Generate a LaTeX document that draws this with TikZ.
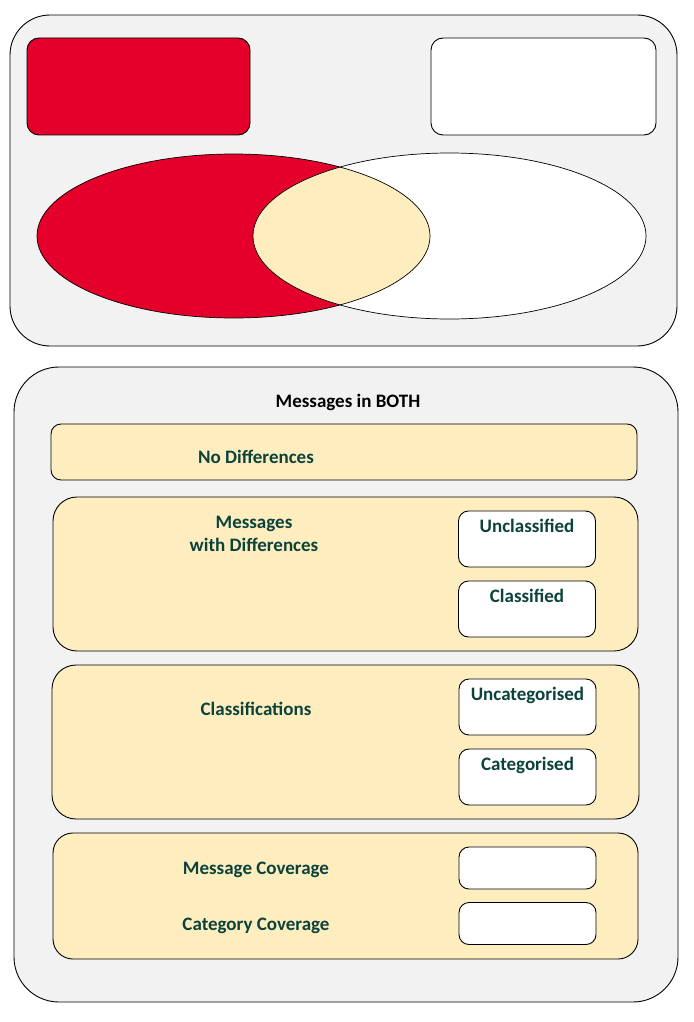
\documentclass[tikz,border=0pt]{standalone}
\usepackage{fontspec}
\setmainfont{Carlito}
\usepackage{xcolor}
\usetikzlibrary{positioning}
\definecolor{panelgrey}{HTML}{F2F2F2}
\definecolor{setred}{HTML}{E4002B}
\definecolor{pale}{HTML}{FEEEBF}
\definecolor{darkteal}{HTML}{0B423C}
\tikzstyle{panel} = [rectangle, draw, fill=panelgrey, line width=0.9pt, inner sep=0pt]
\tikzstyle{band} = [rectangle, draw, fill=pale, line width=0.9pt, inner sep=0pt]
\tikzstyle{subbox} = [rectangle, draw, fill=white, line width=0.9pt,
    rounded corners=10pt, minimum width=137pt, inner sep=0pt]
\tikzstyle{lbl} = [font=\fontsize{19}{23}\selectfont\bfseries, text=darkteal, align=center, inner sep=0pt]

\begin{document}
\begin{tikzpicture}[x=1pt, y=-1pt]
    \useasboundingbox (0,0) rectangle (693,1022);
    % Top panel with the two sets
    \node [panel, rounded corners=40pt, minimum width=667pt, minimum height=331pt] (venn) at (343.5,180.5) {};
    \node [panel, fill=setred, rounded corners=12pt, minimum width=223pt, minimum height=97pt] (left) at (138.5,86.5) {};
    \node [panel, fill=white, rounded corners=12pt, minimum width=225pt, minimum height=97pt] (right) at (543.5,86.5) {};
    \fill [setred] (233.5,236) ellipse [x radius=196.5, y radius=82];
    \fill [white] (449.5,236) ellipse [x radius=196.5, y radius=83];
    \begin{scope}
        \clip (233.5,236) ellipse [x radius=196.5, y radius=82];
        \fill [pale] (449.5,236) ellipse [x radius=196.5, y radius=83];
    \end{scope}
    \draw [line width=0.7pt] (233.5,236) ellipse [x radius=196.5, y radius=82];
    \draw [line width=0.7pt] (449.5,236) ellipse [x radius=196.5, y radius=83];
    % Bottom panel
    \node [panel, rounded corners=45pt, minimum width=664pt, minimum height=635pt] (both) at (346,684.5) {};
    \node [lbl, text=black] (bothtitle) at (348,402) {Messages in BOTH};
    % Bands
    \node [band, rounded corners=10pt, minimum width=586pt, minimum height=56pt] (nodiff) at (344,452) {};
    \node [lbl] at (256,457) {No Differences};
    \node [band, rounded corners=24pt, minimum width=585pt, minimum height=154pt] (withdiff) at (345.5,574) {};
    \node [lbl] at (254,534) {Messages\\with Differences};
    \node [band, rounded corners=24pt, minimum width=587pt, minimum height=154pt] (classif) at (345.5,742) {};
    \node [lbl] at (256,709) {Classifications};
    \node [band, rounded corners=20pt, minimum width=585pt, minimum height=126pt] (coverage) at (345.5,896) {};
    \node [lbl] at (256,870) {Message Coverage};
    \node [lbl] at (256,926) {Category Coverage};
    % Boxes on the right
    \node [subbox, minimum height=56pt] (uncl) at (527,539) {};
    \node [lbl, below=8pt of uncl.north] {Unclassified};
    \node [subbox, minimum height=56pt] (cl) at (527,609) {};
    \node [lbl, below=8pt of cl.north] {Classified};
    \node [subbox, minimum height=56pt] (uncat) at (527.5,707) {};
    \node [lbl, below=8pt of uncat.north] {Uncategorised};
    \node [subbox, minimum height=56pt] (cat) at (527.5,777) {};
    \node [lbl, below=8pt of cat.north] {Categorised};
    \node [subbox, minimum height=42pt] (msgcov) at (527.5,868) {};
    \node [subbox, minimum height=42pt] (catcov) at (527.5,923.5) {};
\end{tikzpicture}
\end{document}
